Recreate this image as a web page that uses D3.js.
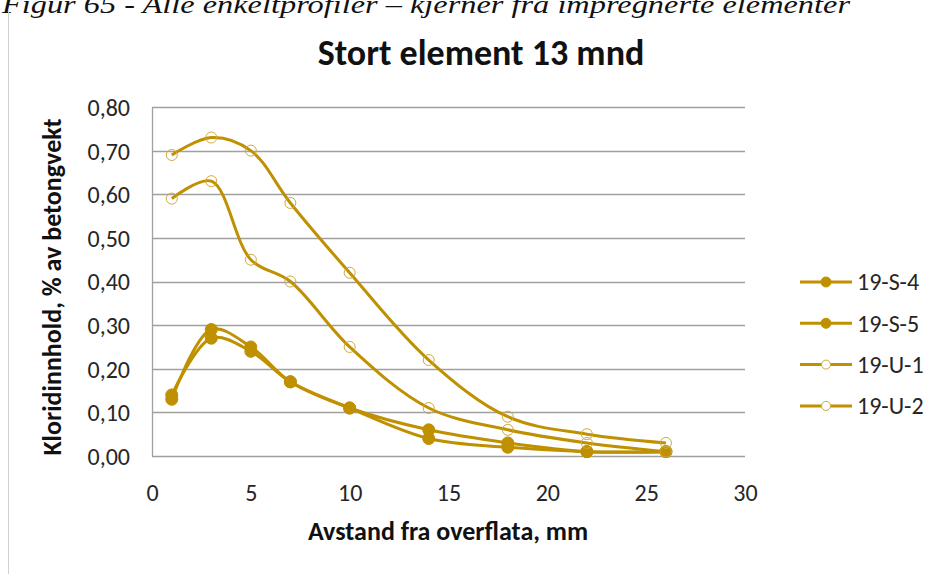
<!DOCTYPE html>
<html>
<head>
<meta charset="utf-8">
<script src="https://cdn.jsdelivr.net/npm/d3@7"></script>
<style>
  body { margin: 0; background: #fff; }
  svg { display: block; }
</style>
</head>
<body>
<div id="chart"></div>
<script>
// chart size
const width = 930;
const height = 574;

// data
const distances = [1, 3, 5, 7, 10, 14, 18, 22, 26];
const seriesNames = ["19-S-4", "19-S-5", "19-U-1", "19-U-2"];
const s4 = [0.13, 0.29, 0.25, 0.17, 0.11, 0.06, 0.03, 0.01, 0.01];
const s5 = [0.14, 0.27, 0.24, 0.17, 0.11, 0.04, 0.02, 0.01, 0.01];
const u1 = [0.69, 0.73, 0.70, 0.58, 0.42, 0.22, 0.09, 0.05, 0.03];
const u2 = [0.59, 0.63, 0.45, 0.40, 0.25, 0.11, 0.06, 0.03, 0.01];
const filled = [true, true, false, false];
const xTicks = [0, 5, 10, 15, 20, 25, 30];
const yTicks = [0, 0.1, 0.2, 0.3, 0.4, 0.5, 0.6, 0.7, 0.8];

const allSeries = [s4, s5, u1, u2];
const gold = "#BF9000";
const font = "Carlito, Lato, 'Open Sans', sans-serif";

const svg = d3.select("#chart")
  .append("svg")
  .attr("width", width)
  .attr("height", height);

// caption from the report page, its top is cut off like in the source
svg.append("text")
  .attr("x", 2)
  .attr("y", 13)
  .attr("font-family", "'Liberation Serif', serif")
  .attr("font-style", "italic")
  .attr("font-size", 26)
  .attr("textLength", 848)
  .attr("lengthAdjust", "spacingAndGlyphs")
  .attr("fill", "#111")
  .text("Figur 65 - Alle enkeltprofiler – kjerner fra impregnerte elementer");

// chart frame edge
svg.append("line")
  .attr("x1", 8.5).attr("x2", 8.5)
  .attr("y1", 10).attr("y2", height)
  .attr("stroke", "#d0d0d0");

// scales
const x = d3.scaleLinear().domain([0, 30]).range([152, 745]);
const y = d3.scaleLinear().domain([0, 0.8]).range([456, 107]);
const fmt = d => d3.format(".2f")(d).replace(".", ",");

// gridlines
svg.append("g")
  .selectAll("line")
  .data(yTicks)
  .enter()
  .append("line")
  .attr("x1", x(0)).attr("x2", x(30))
  .attr("y1", d => Math.round(y(d)) + 0.5)
  .attr("y2", d => Math.round(y(d)) + 0.5)
  .attr("stroke", "#a0a0a0")
  .attr("stroke-width", 1.3);

// left axis line
svg.append("line")
  .attr("x1", x(0) + 0.5).attr("x2", x(0) + 0.5)
  .attr("y1", y(0.8)).attr("y2", y(0))
  .attr("stroke", "#a0a0a0")
  .attr("stroke-width", 1.3);

// axes (labels only)
const yAxis = svg.append("g")
  .attr("transform", `translate(${x(0)},0)`)
  .call(d3.axisLeft(y).tickValues(yTicks).tickFormat(fmt).tickSize(0).tickPadding(22));
const xAxis = svg.append("g")
  .attr("transform", `translate(0,${y(0)})`)
  .call(d3.axisBottom(x).tickValues(xTicks).tickFormat(d3.format("d")).tickSize(0).tickPadding(37));
[yAxis, xAxis].forEach(g => {
  g.select(".domain").remove();
  g.selectAll("text")
    .attr("font-family", font)
    .attr("font-size", 24)
    .attr("fill", "#262626")
    .attr("dy", "0.35em");
});

// series lines and markers
const line = d3.line()
  .x((d, i) => x(distances[i]))
  .y(d => y(d))
  .curve(d3.curveCatmullRom.alpha(0.5));

allSeries.forEach((vals, k) => {
  const g = svg.append("g");
  g.append("path")
    .attr("d", line(vals))
    .attr("fill", "none")
    .attr("stroke", gold)
    .attr("stroke-width", 3)
    .attr("stroke-linejoin", "round");
  g.selectAll("circle")
    .data(vals)
    .enter()
    .append("circle")
    .attr("cx", (d, i) => x(distances[i]))
    .attr("cy", d => y(d))
    .attr("r", filled[k] ? 6 : 5.5)
    .attr("fill", filled[k] ? gold : "none")
    .attr("stroke", filled[k] ? gold : "#cfa93c")
    .attr("stroke-width", 1);
});

// title
svg.append("text")
  .attr("x", 481)
  .attr("y", 65)
  .attr("text-anchor", "middle")
  .attr("font-family", font)
  .attr("font-weight", "bold")
  .attr("font-size", 36)
  .attr("fill", "#111")
  .text("Stort element 13 mnd");

// axis titles
svg.append("text")
  .attr("x", 448)
  .attr("y", 540)
  .attr("text-anchor", "middle")
  .attr("font-family", font)
  .attr("font-weight", "bold")
  .attr("font-size", 26)
  .attr("fill", "#111")
  .text("Avstand fra overflata, mm");

svg.append("text")
  .attr("transform", "translate(61,287) rotate(-90)")
  .attr("text-anchor", "middle")
  .attr("font-family", font)
  .attr("font-weight", "bold")
  .attr("font-size", 26)
  .attr("fill", "#111")
  .text("Kloridinnhold, % av betongvekt");

// legend
const legend = svg.append("g")
  .selectAll("g")
  .data(seriesNames)
  .enter()
  .append("g")
  .attr("transform", (d, i) => `translate(800,${282 + i * 41.3})`);
legend.append("line")
  .attr("x1", 0).attr("x2", 52)
  .attr("stroke", gold)
  .attr("stroke-width", 3);
legend.append("circle")
  .attr("cx", 26)
  .attr("r", (d, i) => filled[i] ? 5 : 4.5)
  .attr("fill", (d, i) => filled[i] ? gold : "#fff")
  .attr("stroke", (d, i) => filled[i] ? gold : "#cfa93c");
legend.append("text")
  .attr("x", 57)
  .attr("dy", "0.35em")
  .attr("font-family", font)
  .attr("font-size", 24)
  .attr("fill", "#262626")
  .text(d => d);
</script>
</body>
</html>
